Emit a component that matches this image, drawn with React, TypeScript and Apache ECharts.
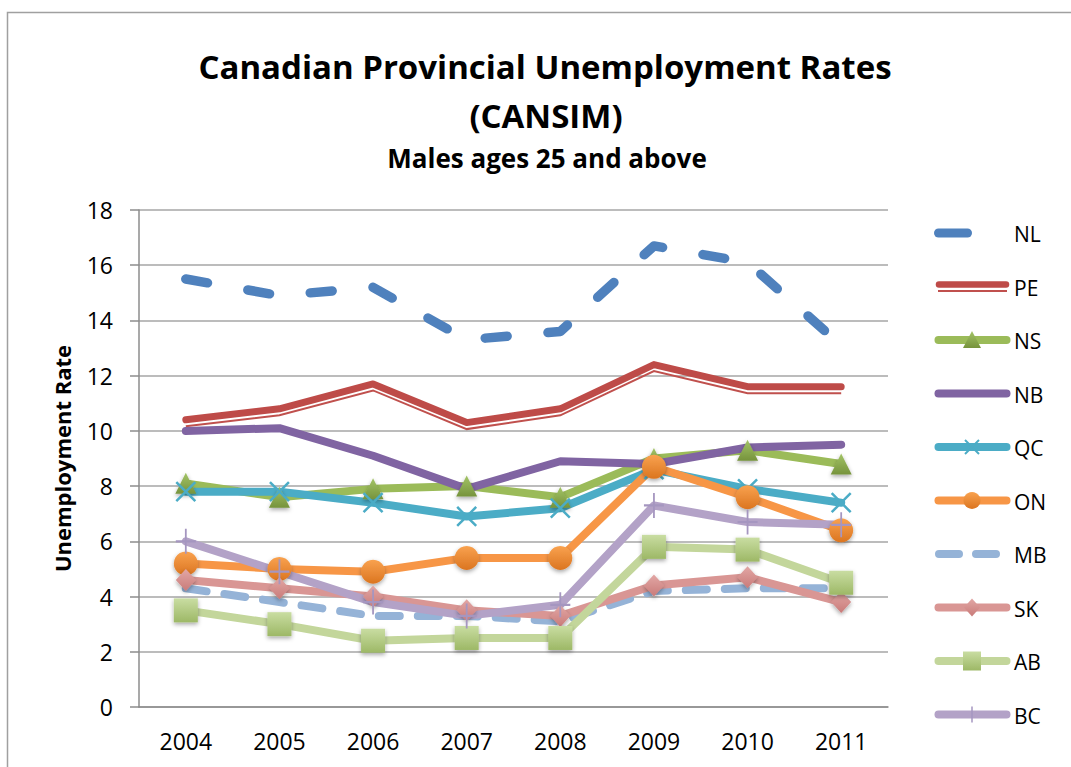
import React, { useEffect, useRef } from "react";
import * as echarts from "echarts";

// ---- data ----
const years = ["2004", "2005", "2006", "2007", "2008", "2009", "2010", "2011"];
const yTicks = { min: 0, max: 18, interval: 2 };

const NL = [15.5, 14.9, 15.2, 13.3, 13.6, 16.7, 16.1, 13.1];
const PE = [10.4, 10.8, 11.7, 10.3, 10.8, 12.4, 11.6, 11.6];
const NS = [8.1, 7.6, 7.9, 8.0, 7.6, 9.0, 9.3, 8.8];
const NB = [10.0, 10.1, 9.1, 7.9, 8.9, 8.8, 9.4, 9.5];
const QC = [7.8, 7.8, 7.4, 6.9, 7.2, 8.6, 7.9, 7.4];
const ON = [5.2, 5.0, 4.9, 5.4, 5.4, 8.7, 7.6, 6.4];
const MB = [4.3, 3.8, 3.3, 3.3, 3.1, 4.2, 4.3, 4.3];
const SK = [4.6, 4.3, 4.0, 3.5, 3.3, 4.4, 4.7, 3.8];
const AB = [3.5, 3.0, 2.4, 2.5, 2.5, 5.8, 5.7, 4.5];
const BC = [6.0, 4.9, 3.8, 3.3, 3.7, 7.3, 6.7, 6.6];

const seriesNames = ["NL", "PE", "NS", "NB", "QC", "ON", "MB", "SK", "AB", "BC"];

const titleText = "Canadian Provincial Unemployment Rates";
const titleText2 = "(CANSIM)";
const subtitleText = "Males ages 25 and above";
const yAxisName = "Unemployment Rate";

const FONT = '"Open Sans", "Noto Sans", sans-serif';

const C = {
  NL: "#4F81BD",
  PE: "#C0504D",
  NS: "#9BBB59",
  NB: "#8064A2",
  QC: "#4BACC6",
  ON: "#F79646",
  MB: "#95B3D7",
  SK: "#D99694",
  AB: "#C3D69B",
  BC: "#B3A2C7",
};

const grad = (a: string, b: string) =>
  new echarts.graphic.LinearGradient(0, 0, 0, 1, [
    { offset: 0, color: a },
    { offset: 1, color: b },
  ]);

const mShadow = {
  shadowBlur: 4,
  shadowColor: "rgba(0,0,0,0.35)",
  shadowOffsetY: 2,
};

const X_PATH = "path://M0,0L20,20M20,0L0,20";
const PLUS_PATH = "path://M10,0L10,24M0,12L20,12";

const LW = 8;

export default function App() {
  const ref = useRef<HTMLDivElement>(null);

  useEffect(() => {
    if (!ref.current) return;
    const chart = echarts.init(ref.current, null, { renderer: "svg" });

    const solid = (color: string, width = LW) => ({
      color,
      width,
      cap: "round",
      join: "round",
    });

    const series: any[] = [
      {
        name: "NL",
        type: "line",
        data: NL,
        symbol: "none",
        lineStyle: { ...solid(C.NL, 9.5), type: [22, 41] },
      },
      {
        name: "PE_thin",
        type: "line",
        xAxisIndex: 1,
        yAxisIndex: 1,
        data: PE,
        symbol: "none",
        lineStyle: { color: C.PE, width: 2, cap: "butt", join: "miter" },
      },
      {
        name: "PE",
        type: "line",
        data: PE,
        symbol: "none",
        lineStyle: solid("#BE4B48", 7),
      },
      {
        name: "NS",
        type: "line",
        data: NS,
        symbol: "triangle",
        symbolSize: [21, 21],
        itemStyle: { color: grad("#A3C467", "#76933C"), ...mShadow },
        lineStyle: solid(C.NS),
      },
      {
        name: "NB",
        type: "line",
        data: NB,
        symbol: "none",
        lineStyle: solid(C.NB),
      },
      {
        name: "QC",
        type: "line",
        data: QC,
        symbol: X_PATH,
        symbolSize: 19,
        itemStyle: { color: C.QC, borderColor: C.QC, borderWidth: 2.5 },
        lineStyle: solid(C.QC),
      },
      {
        name: "ON",
        type: "line",
        data: ON,
        symbol: "circle",
        symbolSize: 24,
        itemStyle: { color: grad("#F9A24F", "#DB7520"), ...mShadow },
        lineStyle: solid(C.ON),
      },
      {
        name: "MB",
        type: "line",
        data: MB,
        symbol: "none",
        lineStyle: { ...solid(C.MB, 8), type: [21, 18] },
      },
      {
        name: "SK",
        type: "line",
        data: SK,
        symbol: "diamond",
        symbolSize: [20, 22],
        itemStyle: { color: grad("#E2A7A5", "#C97B79"), ...mShadow },
        lineStyle: solid(C.SK),
      },
      {
        name: "AB",
        type: "line",
        data: AB,
        symbol: "rect",
        symbolSize: 24,
        itemStyle: { color: grad("#C9DDA2", "#9DB866"), ...mShadow },
        lineStyle: solid(C.AB),
      },
      {
        name: "BC",
        type: "line",
        data: BC,
        symbol: PLUS_PATH,
        symbolSize: [20, 25],
        itemStyle: { color: "#A596C0", borderColor: "#A596C0", borderWidth: 2 },
        lineStyle: solid(C.BC),
      },
    ];
    series.forEach((s) => {
      s.emphasis = { disabled: true };
      s.silent = true;
      s.showAllSymbol = true;
    });

    // ---- custom legend (graphic) ----
    const LX1 = 938.5;
    const LX2 = 1006.5;
    const MX = 972;
    const rowY = (i: number) => 233 + 53.5 * i;
    const legend: any[] = [];
    const lline = (y: number, color: string, width: number, extra: any = {}, x1 = LX1, x2 = LX2) => ({
      type: "line",
      silent: true,
      shape: { x1, y1: y, x2, y2: y },
      style: { stroke: color, lineWidth: width, lineCap: "round", ...extra },
    });
    seriesNames.forEach((name, i) => {
      const y = rowY(i);
      switch (name) {
        case "NL":
          legend.push(lline(y, C.NL, 9, { lineDash: [29, 60] }));
          break;
        case "PE":
          legend.push(lline(y + 4.5, C.PE, 2, { lineCap: "butt" }, 938, 1007));
          legend.push(lline(y - 2, "#BE4B48", 6.5, {}, 939, 1006));
          break;
        case "NS":
          legend.push(lline(y, C.NS, LW));
          legend.push({
            type: "polygon",
            silent: true,
            shape: { points: [[MX, y - 9], [MX - 9, y + 8], [MX + 9, y + 8]] },
            style: { fill: grad("#A3C467", "#76933C") },
          });
          break;
        case "NB":
          legend.push(lline(y, C.NB, LW));
          break;
        case "QC":
          legend.push(lline(y, C.QC, LW));
          legend.push({
            type: "line",
            silent: true,
            shape: { x1: MX - 7, y1: y - 7, x2: MX + 7, y2: y + 7 },
            style: { stroke: C.QC, lineWidth: 2 },
          });
          legend.push({
            type: "line",
            silent: true,
            shape: { x1: MX + 7, y1: y - 7, x2: MX - 7, y2: y + 7 },
            style: { stroke: C.QC, lineWidth: 2 },
          });
          break;
        case "ON":
          legend.push(lline(y, C.ON, LW));
          legend.push({
            type: "circle",
            silent: true,
            shape: { cx: MX, cy: y, r: 8.5 },
            style: { fill: grad("#F9A24F", "#DB7520") },
          });
          break;
        case "MB":
          legend.push(lline(y, C.MB, 8, { lineDash: [20, 17] }, 939, 999.5));
          break;
        case "SK":
          legend.push(lline(y, C.SK, LW));
          legend.push({
            type: "polygon",
            silent: true,
            shape: { points: [[MX, y - 9], [MX + 8, y], [MX, y + 9], [MX - 8, y]] },
            style: { fill: grad("#E2A7A5", "#C97B79") },
          });
          break;
        case "AB":
          legend.push(lline(y, C.AB, LW));
          legend.push({
            type: "rect",
            silent: true,
            shape: { x: MX - 9, y: y - 9.5, width: 18, height: 19 },
            style: { fill: grad("#C9DDA2", "#9DB866") },
          });
          break;
        case "BC":
          legend.push(lline(y, C.BC, LW));
          legend.push({
            type: "line",
            silent: true,
            shape: { x1: MX, y1: y - 8, x2: MX, y2: y + 8 },
            style: { stroke: "#A596C0", lineWidth: 1.5 },
          });
          break;
      }
      legend.push({
        type: "text",
        silent: true,
        x: 1014,
        y: y + 1,
        style: {
          text: name,
          fontSize: 21,
          fontFamily: FONT,
          fill: "#000",
          align: "left",
          verticalAlign: "middle",
        },
      });
    });

    const option: any = {
      animation: false,
      backgroundColor: "#fff",
      grid: [
        { left: 139, right: 183, top: 210, bottom: 60 },
        { left: 139, right: 183, top: 216.5, bottom: 53.5 },
      ],
      xAxis: [
        {
          type: "category",
          data: years,
          boundaryGap: true,
          axisLine: { lineStyle: { color: "#8C8C8C", width: 1.5 } },
          axisTick: {
            alignWithLabel: true,
            length: 9,
            lineStyle: { color: "#8C8C8C", width: 1.5 },
          },
          axisLabel: { fontSize: 23, color: "#000", margin: 22, fontFamily: FONT },
        },
        { type: "category", data: years, boundaryGap: true, gridIndex: 1, show: false },
      ],
      yAxis: [
        {
          type: "value",
          min: yTicks.min,
          max: yTicks.max,
          interval: yTicks.interval,
          name: yAxisName,
          nameLocation: "middle",
          nameGap: 66,
          nameTextStyle: {
            fontSize: 22,
            fontWeight: "bold",
            color: "#000",
            fontFamily: FONT,
          },
          axisLine: { show: true, lineStyle: { color: "#8C8C8C", width: 1.5 } },
          axisTick: { show: true, length: 9, lineStyle: { color: "#8C8C8C", width: 1.5 } },
          splitLine: { lineStyle: { color: "#A6A6A6", width: 1.5 } },
          axisLabel: { fontSize: 23, color: "#000", margin: 26, fontFamily: FONT },
        },
        {
          type: "value",
          gridIndex: 1,
          min: yTicks.min,
          max: yTicks.max,
          interval: yTicks.interval,
          show: false,
        },
      ],
      graphic: [
        {
          type: "rect",
          silent: true,
          z: -10,
          shape: { x: 7.5, y: 12.5, width: 1200, height: 900 },
          style: { fill: "none", stroke: "#A0A0A0", lineWidth: 1.5 },
        },
        {
          type: "text",
          silent: true,
          x: 545,
          y: 66,
          style: {
            text: titleText,
            fontSize: 33,
            fontWeight: "bold",
            fontFamily: FONT,
            fill: "#000",
            align: "center",
            verticalAlign: "middle",
          },
        },
        {
          type: "text",
          silent: true,
          x: 546,
          y: 115,
          style: {
            text: titleText2,
            fontSize: 33,
            fontWeight: "bold",
            fontFamily: FONT,
            fill: "#000",
            align: "center",
            verticalAlign: "middle",
          },
        },
        {
          type: "text",
          silent: true,
          x: 547,
          y: 158,
          style: {
            text: subtitleText,
            fontSize: 26,
            fontWeight: "bold",
            fontFamily: FONT,
            fill: "#000",
            align: "center",
            verticalAlign: "middle",
          },
        },
        ...legend,
      ],
      series,
    };

    chart.setOption(option);
    return () => chart.dispose();
  }, []);

  return (
    <div
      ref={ref}
      style={{
        position: "fixed",
        left: 0,
        top: 0,
        width: 1071,
        height: 767,
        background: "#fff",
      }}
    />
  );
}
